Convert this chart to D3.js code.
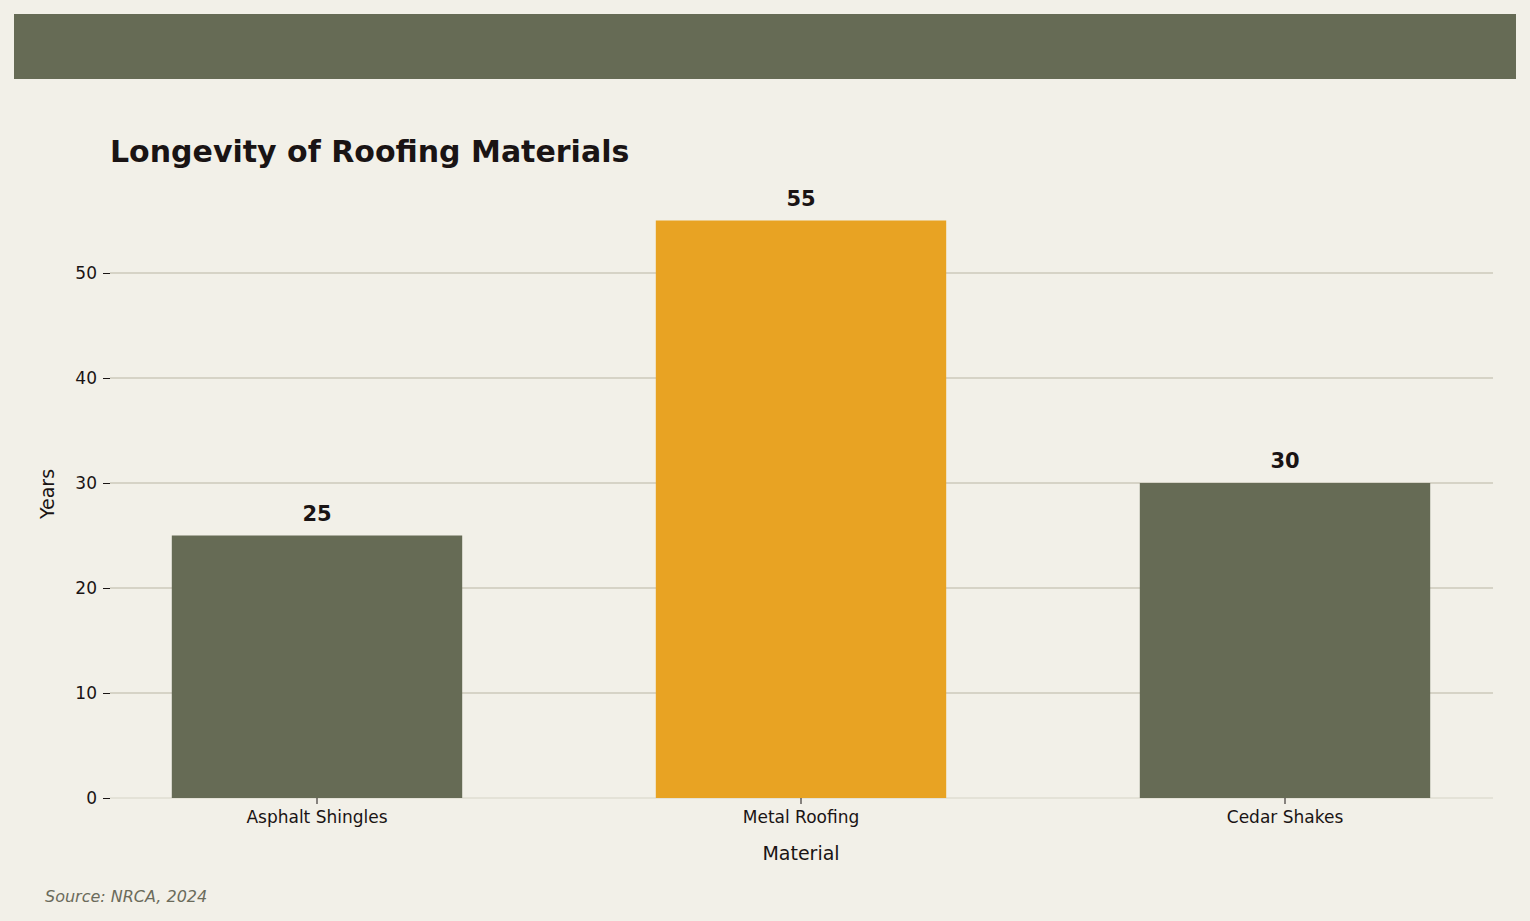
<!DOCTYPE html><html><head><meta charset="utf-8">
<script src="https://cdn.jsdelivr.net/npm/d3@7"></script>
<style>body{margin:0;background:#f2f0e8;font-family:"DejaVu Sans",sans-serif}</style></head><body>
<svg id="c" width="1530" height="921"></svg>
<script>
const categories=["Asphalt Shingles","Metal Roofing","Cedar Shakes"];
const years=[25,55,30];
const highlight=[false,true,false];
const yTicks=[0,10,20,30,40,50];
const svg=d3.select("#c");
svg.append("rect").attr("width",1530).attr("height",921).attr("fill","#f2f0e8");
svg.append("rect").attr("x",14).attr("y",14).attr("width",1502).attr("height",65).attr("fill","#666b55");
const x=d3.scaleBand().domain(categories).range([75,1527]).paddingInner(0.4).paddingOuter(0.2);
const y=d3.scaleLinear().domain([0,60]).range([798,168]);
const gx0=110,gx1=1493;
svg.append("g").selectAll("line").data(yTicks.slice(1)).join("line")
 .attr("x1",gx0).attr("x2",gx1).attr("y1",d=>y(d)).attr("y2",d=>y(d)).attr("stroke","#cccabb").attr("stroke-width",1.5);
svg.append("line").attr("x1",gx0).attr("x2",gx1).attr("y1",y(0)).attr("y2",y(0)).attr("stroke","#d6d4c6");
svg.selectAll(".bar").data(categories).join("rect")
 .attr("x",d=>x(d)).attr("width",x.bandwidth()).attr("y",(d,i)=>y(years[i])).attr("height",(d,i)=>y(0)-y(years[i]))
 .attr("fill",(d,i)=>highlight[i]?"#e8a323":"#666b55");
svg.selectAll(".lbl").data(categories).join("text")
 .attr("x",d=>x(d)+x.bandwidth()/2).attr("y",(d,i)=>y(years[i])-15).attr("text-anchor","middle")
 .attr("font-size",21).attr("font-weight","bold").attr("fill","#1a1414").text((d,i)=>years[i]);
const ya=svg.append("g").attr("transform",`translate(${gx0},0)`).call(d3.axisLeft(y).tickValues(yTicks).tickSize(7).tickPadding(6));
ya.select(".domain").remove();
ya.selectAll("text").attr("font-size",17).attr("fill","#1a1414").attr("font-family","DejaVu Sans");
ya.selectAll("line").attr("stroke","#1a1414");
const xa=svg.append("g").attr("transform",`translate(0,${y(0)})`).call(d3.axisBottom(x).tickSize(6).tickPadding(7));
xa.select(".domain").remove();
xa.selectAll("text").attr("font-size",17).attr("fill","#1a1414").attr("font-family","DejaVu Sans");
xa.selectAll("line").attr("stroke","#1a1414");
svg.append("text").attr("x",801).attr("y",860).attr("text-anchor","middle").attr("font-size",19).attr("fill","#1a1414").text("Material");
svg.append("text").attr("transform","translate(54,494) rotate(-90)").attr("text-anchor","middle").attr("font-size",19).attr("fill","#1a1414").text("Years");
svg.append("text").attr("x",110).attr("y",162).attr("font-size",30).attr("font-weight","bold").attr("fill","#1a1414").text("Longevity of Roofing Materials");
svg.append("text").attr("x",45).attr("y",902).attr("font-size",16).attr("font-style","italic").attr("fill","#6b6b5b").text("Source: NRCA, 2024");
</script></body></html>
